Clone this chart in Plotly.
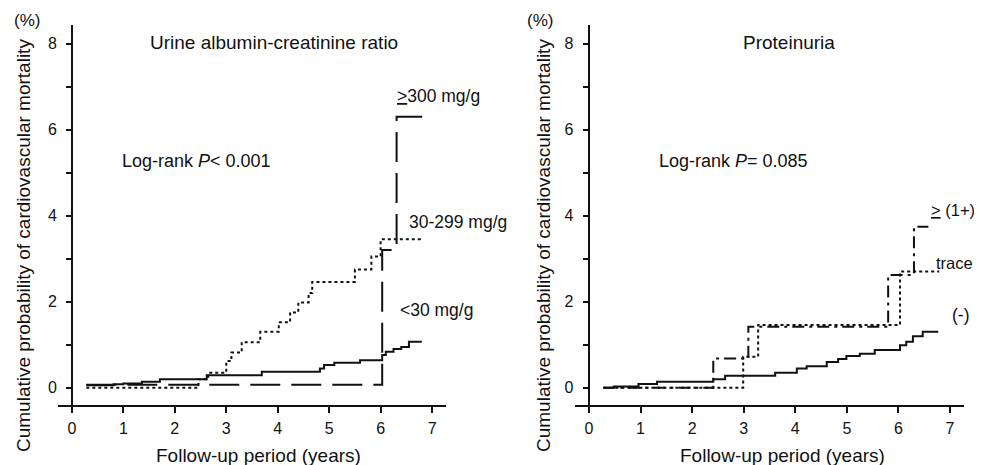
import plotly.graph_objects as go

# ---- data (years, cumulative %) ----
# Left panel: urine albumin-creatinine ratio
uacr_lt30_t = [0.28, 0.81, 1.0, 1.36, 1.71, 2.62, 3.69, 4.82, 4.9, 5.1, 5.6, 6.03, 6.1, 6.25, 6.4, 6.55, 6.8]
uacr_lt30_v = [0.06, 0.085, 0.1, 0.14, 0.2, 0.29, 0.37, 0.45, 0.53, 0.58, 0.64, 0.76, 0.84, 0.9, 0.95, 1.07, 1.07]
uacr_mid_t = [0.28, 2.46, 2.65, 3.0, 3.1, 3.3, 3.66, 4.02, 4.24, 4.4, 4.6, 4.67, 5.5, 5.82, 6.0, 6.8]
uacr_mid_v = [0.0, 0.2, 0.35, 0.62, 0.82, 1.06, 1.3, 1.52, 1.75, 1.98, 2.2, 2.46, 2.75, 3.05, 3.45, 3.45]
uacr_hi_t = [0.28, 6.03, 6.31, 6.82]
uacr_hi_v = [0.07, 3.2, 6.3, 6.3]

# Right panel: proteinuria
prot_neg_t = [0.28, 0.48, 0.96, 1.32, 2.41, 2.64, 3.61, 4.03, 4.22, 4.61, 4.83, 4.99, 5.25, 5.54, 6.03, 6.15, 6.28, 6.47, 6.77]
prot_neg_v = [0.0, 0.03, 0.09, 0.14, 0.2, 0.28, 0.35, 0.45, 0.5, 0.6, 0.67, 0.74, 0.79, 0.88, 0.99, 1.07, 1.2, 1.3, 1.3]
prot_trace_t = [0.28, 2.99, 3.28, 6.03, 6.79]
prot_trace_v = [0.0, 0.72, 1.46, 2.7, 2.7]
prot_ge1_t = [0.28, 2.41, 3.09, 5.8, 6.3, 6.58]
prot_ge1_v = [0.0, 0.68, 1.42, 2.62, 3.74, 3.74]

x_ticks = [0, 1, 2, 3, 4, 5, 6, 7]
y_ticks = [0, 1, 2, 3, 4, 5, 6, 7, 8]
y_ticktext = ["0", "", "2", "", "4", "", "6", "", "8"]

FONT = "Liberation Sans, Arial, sans-serif"
BLACK = "#111111"

# page body has an 8px margin: work in screen pixels and shift
S = 8
FW, FH = 974, 457
def px(x):
    return (x - S) / FW
def py(y):
    return 1 - (y - S) / FH

fig = go.Figure()

def add(t, v, dash, xa, ya):
    fig.add_trace(go.Scatter(x=t, y=v, mode="lines", line_shape="hv",
                             line=dict(color=BLACK, width=2, dash=dash),
                             xaxis=xa, yaxis=ya, showlegend=False, hoverinfo="skip"))

add(uacr_lt30_t, uacr_lt30_v, "solid", "x", "y")
add(uacr_mid_t, uacr_mid_v, "3px,3px", "x", "y")
add(uacr_hi_t, uacr_hi_v, "30px,11px", "x", "y")
add(prot_neg_t, prot_neg_v, "solid", "x2", "y2")
add(prot_trace_t, prot_trace_v, "3px,3px", "x2", "y2")
add(prot_ge1_t, prot_ge1_v, "12px,5px,3px,5px", "x2", "y2")

xrange_ = [-0.27, 7.27]
yrange_ = [-0.4, 8.43]
ydom = [py(405), py(25)]

axis_common = dict(showgrid=False, zeroline=False, showline=True, linecolor=BLACK, linewidth=2,
                   ticks="outside", tickcolor=BLACK, tickwidth=2,
                   tickfont=dict(family=FONT, size=16, color=BLACK))

fig.update_layout(
    width=FW, height=FH, margin=dict(l=0, r=0, t=0, b=0),
    paper_bgcolor="white", plot_bgcolor="white",
    xaxis=dict(domain=[px(58), px(446)], range=xrange_, anchor="y", tickvals=x_ticks, ticklen=6,
               ticklabelstandoff=2, **axis_common),
    yaxis=dict(domain=ydom, range=yrange_, anchor="free", position=px(72),
               tickvals=y_ticks, ticktext=y_ticktext, ticklen=5, ticklabelstandoff=6, **axis_common),
    xaxis2=dict(domain=[px(575), px(964)], range=xrange_, anchor="y2", tickvals=x_ticks, ticklen=6,
                ticklabelstandoff=2, **axis_common),
    yaxis2=dict(domain=ydom, range=yrange_, anchor="free", position=px(588.7),
                tickvals=y_ticks, ticktext=y_ticktext, ticklen=5, ticklabelstandoff=6, **axis_common),
)

ann = []
def txt(text, x, y, xref, yref, size=18, xanchor="left", angle=0):
    ann.append(dict(text=text, x=x, y=y, xref=xref, yref=yref, showarrow=False,
                    xanchor=xanchor, yanchor="middle", textangle=angle,
                    font=dict(family=FONT, size=size, color=BLACK)))

# left panel texts
txt("Urine albumin-creatinine ratio", 3.92, 8.02, "x", "y", size=19, xanchor="center")
txt("Log-rank <i>P</i>&lt; 0.001", 0.94, 5.27, "x", "y")
txt("<u>&gt;</u>300 mg/g", 6.28, 6.78, "x", "y", size=17.5)
txt("30-299 mg/g", 6.51, 3.85, "x", "y", size=17.5)
txt("&lt;30 mg/g", 6.34, 1.8, "x", "y", size=17.5)
# right panel texts
txt("Proteinuria", 3.87, 8.02, "x2", "y2", size=19, xanchor="center")
txt("Log-rank <i>P</i>= 0.085", 1.32, 5.27, "x2", "y2")
txt("<u>&gt;</u> (1+)", 6.6, 4.13, "x2", "y2", size=16.5)
txt("trace", 6.69, 2.9, "x2", "y2", size=16.5)
txt("(-)", 7.0, 1.69, "x2", "y2", size=17.5)

# axis titles & unit labels
for cx_title, cx_y, cx_pct in [(258.5, 23, 27), (782.7, 543, 540)]:
    txt("Follow-up period (years)", px(cx_title), py(455), "paper", "paper", size=19, xanchor="center")
    txt("Cumulative probability of cardiovascular mortality", px(cx_y), py(246), "paper", "paper",
        size=19, xanchor="center", angle=-90)
    txt("(%)", px(cx_pct), py(20), "paper", "paper", size=17, xanchor="center")

fig.update_layout(annotations=ann)
fig.write_html("out.html")
